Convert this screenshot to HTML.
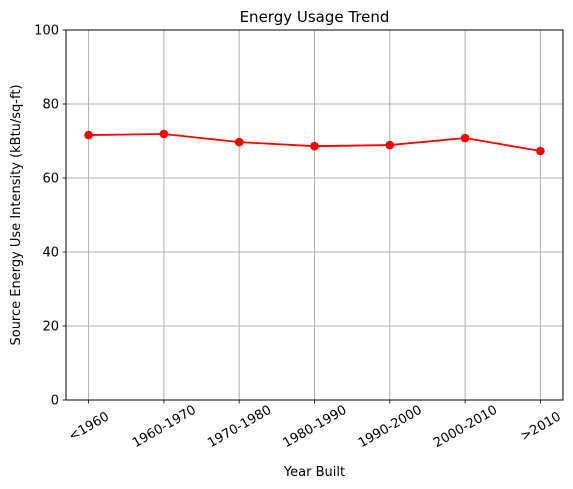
<!DOCTYPE html>
<html><head><meta charset="utf-8"><style>
body{margin:0;background:#fff;}
svg{display:block;font-family:"DejaVu Sans","Liberation Sans",sans-serif;}
</style></head><body>
<svg id="chart" width="573" height="489" xmlns="http://www.w3.org/2000/svg"></svg>
<script>
const categories=["<1960","1960-1970","1970-1980","1980-1990","1990-2000","2000-2010",">2010"];
const values=[71.6,71.9,69.7,68.6,68.9,70.8,67.3];
const yTicks=[0,20,40,60,80,100];
const NS="http://www.w3.org/2000/svg";
const svg=document.getElementById('chart');
const L=66,R=563,T=30,B=400;
const xs=i=>L+(i+0.3)*(R-L)/(categories.length-1+0.6);
const ys=v=>B-(v-0)/(100-0)*(B-T);
function mk(tag,attrs,parent){const e=document.createElementNS(NS,tag);for(const k in attrs)e.setAttribute(k,attrs[k]);(parent||svg).appendChild(e);return e;}
const grid=mk('g',{});


categories.forEach((c,i)=>{mk('line',{x1:xs(i),x2:xs(i),y1:T,y2:B,stroke:'#b0b0b0','stroke-width':1},grid);});
yTicks.forEach(t=>{mk('line',{x1:L,x2:R,y1:ys(t),y2:ys(t),stroke:'#b0b0b0','stroke-width':1},grid);});
const frame=mk('rect',{x:L,y:T,width:R-L,height:B-T,fill:'none',stroke:'#000','stroke-width':1});


yTicks.forEach(t=>{
  mk('line',{x1:L-3.5,x2:L,y1:ys(t),y2:ys(t),stroke:'#000','stroke-width':0.8});
  const tx=mk('text',{x:L-7,y:ys(t)+4.5,'text-anchor':'end','font-size':13});
  tx.textContent=t;
  
  
});
categories.forEach((c,i)=>{
  mk('line',{x1:xs(i),x2:xs(i),y1:B,y2:B+3.5,stroke:'#000','stroke-width':0.8});
  const cy=B+26;
  const tx=mk('text',{x:xs(i),y:cy+4.5,'text-anchor':'middle','font-size':13,transform:`rotate(-30 ${xs(i)} ${cy})`});
  tx.textContent=c;
  
  
});
const line=mk('polyline',{points:values.map((v,i)=>xs(i)+','+ys(v)).join(' '),fill:'none',stroke:'#ff0000','stroke-width':1.8});


values.forEach((v,i)=>{
  const c=mk('circle',{cx:xs(i),cy:ys(v),r:4.3,fill:'#ff0000'});
  
  
});
const title=mk('text',{x:(L+R)/2,y:22,'text-anchor':'middle','font-size':15});
title.textContent='Energy Usage Trend';


const xt=mk('text',{x:(L+R)/2,y:476,'text-anchor':'middle','font-size':13});
xt.textContent='Year Built';


const yt=mk('text',{x:20,y:(T+B)/2,'text-anchor':'middle','font-size':13,transform:`rotate(-90 20 ${(T+B)/2})`});
yt.textContent='Source Energy Use Intensity (kBtu/sq-ft)';


</script>
</body></html>
